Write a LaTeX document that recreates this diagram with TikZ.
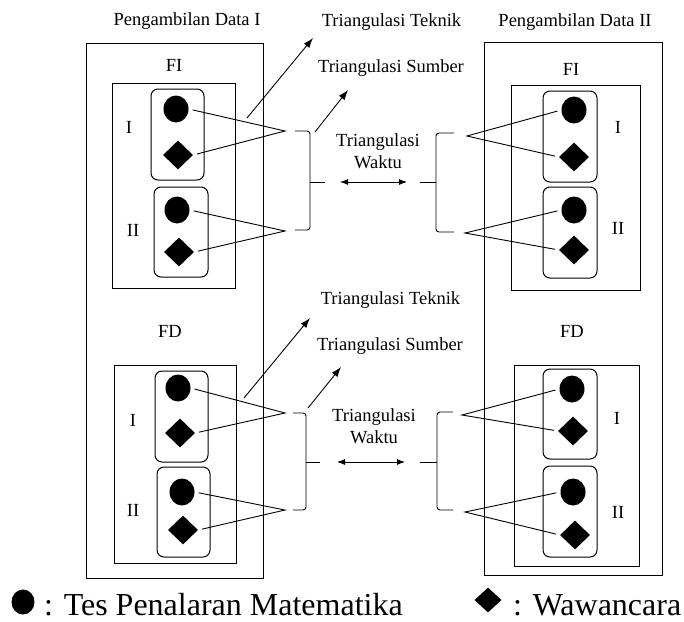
\documentclass[tikz,border=0pt]{standalone}
\usepackage{fontspec}
\setmainfont{Liberation Serif}
\usetikzlibrary{arrows.meta,shapes.geometric}
\tikzset{
    triangulation diagram/.style = {x=1pt, y=-1pt,
                                    >={Latex[length=10pt,width=7pt]}},
    line/.style      = {line width=0.9pt},
    frame/.style     = {draw, line width=1pt},
    group/.style     = {draw, line width=1pt, rounded corners=7pt},
    tes/.style       = {ellipse, fill, inner sep=0pt,
                        minimum width=25pt, minimum height=27pt},
    wwc/.style       = {diamond, fill, inner sep=0pt,
                        minimum width=30pt, minimum height=29pt},
    lbl/.style       = {font=\fontsize{18.5}{22}\selectfont,
                        inner sep=0pt, align=center},
    link/.style      = {line, shorten <=4pt, shorten >=4pt},
    bracket/.style   = {line, rounded corners=3pt},
    timearrow/.style = {line, {Latex[length=8pt,width=6pt]}-{Latex[length=8pt,width=6pt]}},
    legend/.style    = {font=\fontsize{32}{38}\selectfont,
                        inner sep=0pt, anchor=base west}
}

\begin{document}
\begin{tikzpicture}[triangulation diagram]
\useasboundingbox (0,0) rectangle (684,621);

% ================= Pengambilan Data I (left column) =================
\node[lbl] (dataI) at (187,21) {Pengambilan Data I};
\draw[frame] (86,43) rectangle (263,578);

% FI
\node[lbl] (fiL) at (174,65.5) {FI};
\draw[frame] (112,83) rectangle (235,288);
\draw[group] (151,89) rectangle (204,180);
\draw[group] (154,187) rectangle (208,277);
\node[lbl] (sLI1) at (129,127) {I};
\node[lbl] (sLI2) at (133,230) {II};
\node[tes] (tLI1) at (176,109) {};
\node[wwc] (wLI1) at (178,155) {};
\node[tes] (tLI2) at (177,210) {};
\node[wwc] (wLI2) at (179,252) {};

% FD
\node[lbl] (fdL) at (170,331.5) {FD};
\draw[frame] (114,365) rectangle (236,563);
\draw[group] (155,371) rectangle (208,462);
\draw[group] (157,467) rectangle (210,557);
\node[lbl] (sLD1) at (133,420) {I};
\node[lbl] (sLD2) at (133,510) {II};
\node[tes] (tLD1) at (178,388) {};
\node[wwc] (wLD1) at (180,433) {};
\node[tes] (tLD2) at (182,492) {};
\node[wwc] (wLD2) at (183,530) {};

% ================= Pengambilan Data II (right column) =================
\node[lbl] (dataII) at (575,22) {Pengambilan Data II};
\draw[frame] (484,42) rectangle (662,575);

% FI
\node[lbl] (fiR) at (571,69) {FI};
\draw[frame] (511,85) rectangle (640,290);
\draw[group] (543,91) rectangle (597,182);
\draw[group] (543,187) rectangle (597,278);
\node[lbl] (sRI1) at (618,127) {I};
\node[lbl] (sRI2) at (618,228) {II};
\node[tes] (tRI1) at (574,110) {};
\node[wwc] (wRI1) at (574,157) {};
\node[tes] (tRI2) at (574,210) {};
\node[wwc] (wRI2) at (574,250) {};

% FD
\node[lbl] (fdR) at (572,331.5) {FD};
\draw[frame] (514,365) rectangle (639,566);
\draw[group] (543,369) rectangle (597,459);
\draw[group] (543,466) rectangle (597,557);
\node[lbl] (sRD1) at (617,418) {I};
\node[lbl] (sRD2) at (618,512) {II};
\node[tes] (tRD1) at (572,389) {};
\node[wwc] (wRD1) at (573,431) {};
\node[tes] (tRD2) at (573,492) {};
\node[wwc] (wRD2) at (575,535) {};

% ================= FI triangulation (upper row) =================
\coordinate (vLI1) at (285,131);
\coordinate (vLI2) at (285,231);
\coordinate (vRI1) at (467,136);
\coordinate (vRI2) at (465,233);
\draw[link] (tLI1.east) -- (vLI1) -- (wLI1.east);
\draw[link] (tLI2.east) -- (vLI2) -- (wLI2.east);
\draw[link] (tRI1.west) -- (vRI1) -- (wRI1.west);
\draw[link] (tRI2.west) -- (vRI2) -- (wRI2.west);

% brackets and time arrow
\coordinate (kLI) at (325,182);
\coordinate (kRI) at (420,182);
\draw[bracket] (295,131) -- (310,131) -- (310,230) -- (295,230);
\draw[line] (310,182) -- (kLI);
\draw[bracket] (454,133) -- (436,133) -- (436,232) -- (454,232);
\draw[line] (436,182) -- (kRI);
\draw[timearrow, shorten <=15pt, shorten >=13pt] (kLI) -- (kRI);
\node[lbl] (waktuI) at (378,151) {Triangulasi\\Waktu};

% technique and source
\node[lbl] (teknikI) at (391.5,22.5) {Triangulasi Teknik};
\node[lbl] (sumberI) at (391,68.5) {Triangulasi Sumber};
\coordinate (aTI0) at (247,118);
\coordinate (aTI1) at (313,38);
\coordinate (aSI0) at (315,132);
\coordinate (aSI1) at (348,90);
\draw[->, line] (aTI0) -- (aTI1);
\draw[->, line] (aSI0) -- (aSI1);

% ================= FD triangulation (lower row) =================
\coordinate (vLD1) at (285,413);
\coordinate (vLD2) at (285,510);
\coordinate (vRD1) at (462,415);
\coordinate (vRD2) at (465,512);
\draw[link] (tLD1.east) -- (vLD1) -- (wLD1.east);
\draw[link] (tLD2.east) -- (vLD2) -- (wLD2.east);
\draw[link] (tRD1.west) -- (vRD1) -- (wRD1.west);
\draw[link] (tRD2.west) -- (vRD2) -- (wRD2.west);

% brackets and time arrow
\coordinate (kLD) at (320,462);
\coordinate (kRD) at (420,462);
\draw[bracket] (293,413) -- (306,413) -- (306,510) -- (293,510);
\draw[line] (306,462) -- (kLD);
\draw[bracket] (453,412) -- (437,412) -- (437,510) -- (453,510);
\draw[line] (437,462) -- (kRD);
\draw[timearrow, shorten <=17pt, shorten >=15pt] (kLD) -- (kRD);
\node[lbl] (waktuD) at (374,426) {Triangulasi\\Waktu};

% technique and source
\node[lbl] (teknikD) at (390.5,300.5) {Triangulasi Teknik};
\node[lbl] (sumberD) at (390,346.5) {Triangulasi Sumber};
\coordinate (aTD0) at (244,398);
\coordinate (aTD1) at (310,318);
\coordinate (aSD0) at (308,408);
\coordinate (aSD1) at (341,367);
\draw[->, line] (aTD0) -- (aTD1);
\draw[->, line] (aSD0) -- (aSD1);

% ================= Legend =================
\node[tes, minimum width=23pt, minimum height=25pt] (legT) at (23,602) {};
\node[legend] (legTtxt) at (44,615) {: Tes Penalaran Matematika};
\node[wwc, minimum width=27pt, minimum height=25pt] (legW) at (488,600) {};
\node[legend] (legWtxt) at (513,615) {: Wawancara};

\end{tikzpicture}
\end{document}
